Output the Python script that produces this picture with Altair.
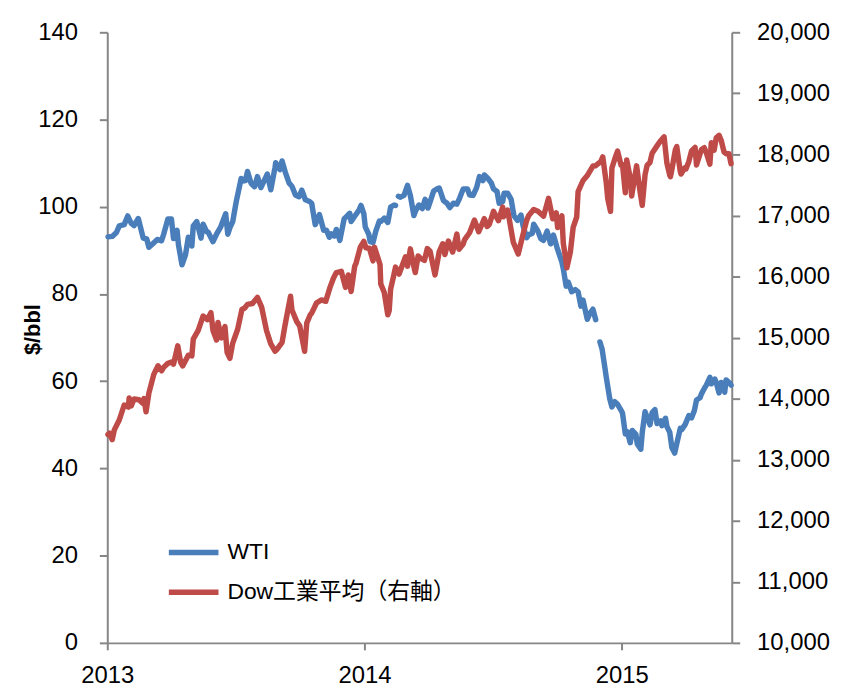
import altair as alt
import pandas as pd

# ---------------- data ----------------
wti_dates = [
    "2013-01-02", "2013-01-08", "2013-01-14", "2013-01-18", "2013-01-25", "2013-01-30",
    "2013-02-04", "2013-02-08", "2013-02-14", "2013-02-21", "2013-02-26", "2013-03-01",
    "2013-03-07", "2013-03-13", "2013-03-19", "2013-03-22", "2013-03-28", "2013-04-02",
    "2013-04-05", "2013-04-10", "2013-04-12", "2013-04-17", "2013-04-22", "2013-04-26",
    "2013-05-01", "2013-05-03", "2013-05-08", "2013-05-14", "2013-05-17", "2013-05-22",
    "2013-05-24", "2013-05-31", "2013-06-05", "2013-06-11", "2013-06-18", "2013-06-21",
    "2013-06-24", "2013-06-28", "2013-07-03", "2013-07-10", "2013-07-12", "2013-07-16",
    "2013-07-19", "2013-07-24", "2013-07-29", "2013-08-02", "2013-08-07", "2013-08-12",
    "2013-08-16", "2013-08-21", "2013-08-27", "2013-08-28", "2013-09-03", "2013-09-06",
    "2013-09-11", "2013-09-16", "2013-09-20", "2013-09-25", "2013-09-30", "2013-10-04",
    "2013-10-09", "2013-10-15", "2013-10-18", "2013-10-23", "2013-10-29", "2013-11-04",
    "2013-11-08", "2013-11-12", "2013-11-15", "2013-11-19", "2013-11-22", "2013-11-27",
    "2013-12-03", "2013-12-06", "2013-12-11", "2013-12-13", "2013-12-18", "2013-12-24",
    "2013-12-27", "2013-12-31",
    "2014-01-02", "2014-01-07", "2014-01-09", "2014-01-13", "2014-01-17", "2014-01-22",
    "2014-01-24", "2014-01-29", "2014-02-03", "2014-02-07", "2014-02-12", "2014-02-14",
    "2014-02-18", "2014-02-21", "2014-02-26", "2014-03-03", "2014-03-07", "2014-03-12",
    "2014-03-14", "2014-03-19", "2014-03-24", "2014-03-28", "2014-04-01", "2014-04-04",
    "2014-04-09", "2014-04-14", "2014-04-17", "2014-04-23", "2014-04-28", "2014-05-02",
    "2014-05-07", "2014-05-12", "2014-05-16", "2014-05-21", "2014-05-27", "2014-05-30",
    "2014-06-04", "2014-06-09", "2014-06-13", "2014-06-18", "2014-06-20", "2014-06-25",
    "2014-06-30", "2014-07-03", "2014-07-08", "2014-07-11", "2014-07-16", "2014-07-18",
    "2014-07-23", "2014-07-28", "2014-08-01", "2014-08-06", "2014-08-11", "2014-08-14",
    "2014-08-19", "2014-08-22", "2014-08-27", "2014-08-29", "2014-09-04", "2014-09-08",
    "2014-09-12", "2014-09-17", "2014-09-22", "2014-09-26", "2014-10-01", "2014-10-03",
    "2014-10-08", "2014-10-10", "2014-10-14", "2014-10-17", "2014-10-22", "2014-10-27",
    "2014-10-31", "2014-11-04", "2014-11-07", "2014-11-13", "2014-11-17", "2014-11-21",
    "2014-11-25",
    "2014-12-01", "2014-12-04", "2014-12-08", "2014-12-10", "2014-12-15", "2014-12-18",
    "2014-12-22", "2014-12-26", "2014-12-31",
    "2015-01-02", "2015-01-06", "2015-01-09", "2015-01-13", "2015-01-16", "2015-01-21",
    "2015-01-23", "2015-01-28", "2015-01-30", "2015-02-03", "2015-02-06", "2015-02-10",
    "2015-02-13", "2015-02-17", "2015-02-20", "2015-02-25", "2015-02-27", "2015-03-04",
    "2015-03-06", "2015-03-10", "2015-03-13", "2015-03-17", "2015-03-20", "2015-03-25",
    "2015-03-27", "2015-04-01", "2015-04-06", "2015-04-10", "2015-04-14", "2015-04-17",
    "2015-04-22", "2015-04-24", "2015-04-29", "2015-05-01", "2015-05-06", "2015-05-08",
    "2015-05-13", "2015-05-15", "2015-05-19", "2015-05-22", "2015-05-27", "2015-05-29",
    "2015-06-03", "2015-06-05",
]
wti_values = [
    93.1, 93.2, 94.1, 95.6, 95.9, 97.9,
    96.2, 95.7, 97.3, 92.8, 92.6, 90.7,
    91.6, 92.5, 92.2, 93.7, 97.2, 97.2,
    92.7, 94.6, 91.3, 86.7, 89.0, 93.0,
    91.0, 95.6, 96.6, 92.8, 96.0, 94.3,
    94.2, 92.0, 93.7, 95.4, 98.4, 93.7,
    95.2, 96.6, 101.2, 106.5, 105.9, 106.0,
    108.1, 105.4, 104.6, 106.9, 104.4, 106.1,
    107.5, 103.9, 109.0, 110.1, 108.5, 110.5,
    107.7, 105.4, 104.7, 102.7, 102.3, 103.8,
    101.6, 101.2, 100.8, 95.9, 98.2, 94.6,
    94.6, 93.0, 93.8, 93.3, 94.8, 92.3,
    97.2, 97.7, 98.5, 96.6, 97.8, 99.2,
    100.3, 98.4,
    95.4, 93.7, 92.0, 91.8, 94.4, 96.7,
    96.6, 97.4, 96.4, 99.9, 100.4, 100.3,
    102.4, 102.2, 102.6, 104.9, 102.6, 98.0,
    98.9, 100.4, 99.6, 101.7, 99.7, 101.1,
    103.6, 104.1, 104.3, 101.4, 100.8, 99.8,
    100.8, 100.6, 102.0, 104.1, 104.1, 102.7,
    102.6, 104.4, 106.9, 106.0, 107.3, 106.5,
    105.4, 104.1, 103.5, 100.8, 101.2, 103.1,
    103.1, 101.7, 97.9, 96.9, 98.1, 95.6,
    92.9, 93.6, 93.9, 96.0, 94.4, 92.7,
    92.3, 94.4, 91.5, 93.5, 90.7, 89.7,
    87.3, 85.8, 81.8, 82.7, 80.5, 81.0,
    80.5, 77.2, 78.6, 74.2, 75.6, 76.5,
    74.1,
    69.0, 67.4, 63.1, 60.9, 55.9, 54.1,
    55.3, 54.7, 53.3,
    52.7, 47.9, 48.4, 45.9, 48.7, 47.8,
    45.6, 44.4, 48.2, 53.0, 51.7, 50.0,
    52.8, 53.5, 50.3, 50.9, 49.8, 51.5,
    49.6, 48.3, 44.8, 43.5, 45.7, 49.2,
    48.9, 50.1, 52.1, 51.6, 53.3, 55.7,
    56.2, 57.1, 58.6, 59.1, 60.9, 59.4,
    60.5, 59.7, 57.3, 59.7, 57.5, 60.3,
    59.6, 59.1,
]
# dates at which the WTI line restarts after a missing stretch
wti_breaks = ["2014-02-18", "2014-12-01"]

dow_dates = [
    "2013-01-02", "2013-01-04", "2013-01-08", "2013-01-11", "2013-01-18", "2013-01-25",
    "2013-01-31", "2013-02-01", "2013-02-04", "2013-02-08", "2013-02-15", "2013-02-20",
    "2013-02-22", "2013-02-25", "2013-03-01", "2013-03-08", "2013-03-14", "2013-03-19",
    "2013-03-22", "2013-03-28", "2013-04-04", "2013-04-05", "2013-04-11", "2013-04-15",
    "2013-04-18", "2013-04-26", "2013-05-01", "2013-05-03", "2013-05-10", "2013-05-17",
    "2013-05-23", "2013-05-28", "2013-05-31", "2013-06-05", "2013-06-07", "2013-06-12",
    "2013-06-17", "2013-06-20", "2013-06-24", "2013-06-28", "2013-07-05", "2013-07-11",
    "2013-07-15", "2013-07-19", "2013-07-26", "2013-08-02", "2013-08-08", "2013-08-15",
    "2013-08-21", "2013-08-27", "2013-08-30", "2013-09-06", "2013-09-10", "2013-09-13",
    "2013-09-18", "2013-09-20", "2013-09-27", "2013-10-01", "2013-10-08", "2013-10-11",
    "2013-10-16", "2013-10-18", "2013-10-25", "2013-11-01", "2013-11-07", "2013-11-13",
    "2013-11-18", "2013-11-22", "2013-11-29", "2013-12-05", "2013-12-09", "2013-12-13",
    "2013-12-18", "2013-12-20", "2013-12-26", "2013-12-31",
    "2014-01-03", "2014-01-08", "2014-01-13", "2014-01-15", "2014-01-23", "2014-01-24",
    "2014-01-29", "2014-02-03", "2014-02-05", "2014-02-07", "2014-02-11", "2014-02-14",
    "2014-02-19", "2014-02-21", "2014-02-28", "2014-03-03", "2014-03-07", "2014-03-13",
    "2014-03-14", "2014-03-18", "2014-03-21", "2014-03-27", "2014-03-31", "2014-04-04",
    "2014-04-07", "2014-04-11", "2014-04-17", "2014-04-22", "2014-04-25", "2014-04-30",
    "2014-05-06", "2014-05-12", "2014-05-15", "2014-05-21", "2014-05-23", "2014-05-30",
    "2014-06-06", "2014-06-12", "2014-06-20", "2014-06-24", "2014-06-27", "2014-07-03",
    "2014-07-10", "2014-07-16", "2014-07-17", "2014-07-23", "2014-07-25", "2014-07-31",
    "2014-08-07", "2014-08-13", "2014-08-19", "2014-08-22", "2014-08-29", "2014-09-04",
    "2014-09-12", "2014-09-19", "2014-09-25", "2014-09-30", "2014-10-02", "2014-10-08",
    "2014-10-10", "2014-10-13", "2014-10-15", "2014-10-20", "2014-10-24", "2014-10-29",
    "2014-10-31", "2014-11-07", "2014-11-13", "2014-11-21", "2014-11-25", "2014-12-02",
    "2014-12-05", "2014-12-10", "2014-12-12", "2014-12-16", "2014-12-18", "2014-12-23",
    "2014-12-26", "2014-12-31",
    "2015-01-02", "2015-01-06", "2015-01-08", "2015-01-13", "2015-01-15", "2015-01-22",
    "2015-01-27", "2015-01-30", "2015-02-03", "2015-02-06", "2015-02-10", "2015-02-13",
    "2015-02-20", "2015-02-25", "2015-03-02", "2015-03-06", "2015-03-10", "2015-03-11",
    "2015-03-13", "2015-03-18", "2015-03-20", "2015-03-25", "2015-03-26", "2015-03-31",
    "2015-04-02", "2015-04-06", "2015-04-10", "2015-04-15", "2015-04-17", "2015-04-24",
    "2015-04-28", "2015-05-01", "2015-05-06", "2015-05-08", "2015-05-12", "2015-05-15",
    "2015-05-19", "2015-05-22", "2015-05-26", "2015-05-29", "2015-06-02", "2015-06-05",
]
dow_values = [
    13412, 13435, 13329, 13488, 13650, 13896,
    13861, 14010, 13880, 13993, 13982, 13927,
    14001, 13784, 14090, 14397, 14539, 14456,
    14512, 14579, 14606, 14565, 14865, 14599,
    14537, 14712, 14700, 14974, 15118, 15354,
    15294, 15409, 15116, 14960, 15248, 14995,
    15179, 14758, 14660, 14910, 15136, 15460,
    15484, 15544, 15559, 15658, 15498, 15112,
    14897, 14777, 14810, 14922, 15191, 15376,
    15677, 15452, 15258, 15192, 14777, 15237,
    15374, 15400, 15570, 15616, 15594, 15822,
    15976, 16065, 16086, 15822, 16026, 15755,
    16168, 16221, 16480, 16577,
    16469, 16462, 16257, 16481, 16197, 15880,
    15738, 15373, 15441, 15794, 15994, 16154,
    16041, 16103, 16322, 16169, 16453, 16109,
    16066, 16337, 16303, 16264, 16458, 16413,
    16246, 16027, 16409, 16537, 16361, 16581,
    16401, 16696, 16447, 16533, 16606, 16717,
    16924, 16734, 16948, 16819, 16852, 17068,
    16915, 17138, 16977, 17087, 16961, 16563,
    16368, 16651, 16919, 17001, 17098, 17069,
    16988, 17280, 16946, 17043, 16801, 16994,
    16544, 16321, 16142, 16400, 16805, 16975,
    17391, 17573, 17652, 17810, 17815, 17880,
    17959, 17534, 17281, 17068, 17778, 17959,
    18053, 17823,
    17833, 17371, 17907, 17613, 17320, 17813,
    17387, 17165, 17667, 17824, 17868, 18019,
    18140, 18224, 18288, 17856, 17662, 17635,
    17749, 18076, 18128, 17719, 17678, 17776,
    17763, 17880, 18057, 18113, 17826, 18080,
    18110, 18024, 17841, 18191, 18069, 18272,
    18312, 18232, 18041, 18011, 18012, 17849,
]

series_names = ["WTI", "Dow工業平均（右軸）"]
series_colors = ["#4A7EBB", "#BE4B48"]
left_ticks = [0, 20, 40, 60, 80, 100, 120, 140]
right_ticks = [10000, 11000, 12000, 13000, 14000, 15000, 16000, 17000, 18000, 19000, 20000]
year_ticks = [2013, 2014, 2015]

# ---------------- tables ----------------
wti = pd.DataFrame({"date": wti_dates, "value": wti_values})
wti["series"] = series_names[0]
wti["segment"] = sum((wti["date"] >= b).astype(int) for b in wti_breaks)

dow = pd.DataFrame({"date": dow_dates, "value": dow_values})
dow["series"] = series_names[1]

FONT = "Liberation Sans, Arial, Noto Sans CJK JP, sans-serif"
AXIS_GREY = "#868686"

x_enc = alt.X(
    "date:T",
    scale=alt.Scale(
        type="utc",
        domain=[alt.DateTime(year=2013, month=1, date=1, utc=True),
                alt.DateTime(year=2015, month=6, date=6, utc=True)],
        nice=False,
    ),
    axis=alt.Axis(
        values=[alt.DateTime(year=y, month=1, date=1, utc=True) for y in year_ticks],
        format="%Y", title=None, grid=False, tickSize=7, labelPadding=14,
        labelFlush=False, labelOverlap=False, labelBound=False,
    ),
)

color_enc = alt.Color(
    "series:N",
    scale=alt.Scale(domain=series_names, range=series_colors),
    legend=alt.Legend(
        title=None, orient="none", legendX=59, legendY=496,
        symbolType="stroke", symbolSize=2500, symbolStrokeWidth=5.5,
        labelFontSize=23, labelFont=FONT, labelColor="black", labelLimit=500,
        labelOffset=6, rowPadding=-15,
    ),
)

wti_line = alt.Chart(wti).mark_line(strokeWidth=5.5, strokeJoin="round", strokeCap="round").encode(
    x=x_enc,
    y=alt.Y(
        "value:Q",
        scale=alt.Scale(domain=[0, 140], nice=False, zero=False),
        axis=alt.Axis(
            values=left_ticks, title="$/bbl", grid=False, tickSize=8, labelPadding=22,
            titleFontSize=22, titleFontWeight="bold", titleAngle=270,
            titleX=-75, titleY=299, titleAlign="center", titleBaseline="middle",
        ),
    ),
    color=color_enc,
    detail="segment:N",
)

dow_line = alt.Chart(dow).mark_line(strokeWidth=5.5, strokeJoin="round", strokeCap="round").encode(
    x=x_enc,
    y=alt.Y(
        "value:Q",
        scale=alt.Scale(domain=[10000, 20000], nice=False, zero=False),
        axis=alt.Axis(
            orient="right", values=right_ticks, format=",.0f", title=None, grid=False,
            tickSize=8, labelPadding=17,
        ),
    ),
    color=color_enc,
)

chart = (
    alt.layer(wti_line, dow_line)
    .resolve_scale(y="independent", color="shared")
    .properties(
        width=629, height=615,
        padding={"left": 100, "top": 22, "right": 104, "bottom": 46},
        autosize=alt.AutoSizeParams(type="none"),
        background="white",
    )
    .configure_view(stroke=None)
    .configure_axis(
        labelFont=FONT, titleFont=FONT, labelFontSize=24, labelColor="black",
        titleColor="black", domainColor=AXIS_GREY, tickColor=AXIS_GREY,
        domainWidth=2, tickWidth=2,
    )
)

chart.save("out.html", embed_options={"renderer": "svg", "actions": False})
